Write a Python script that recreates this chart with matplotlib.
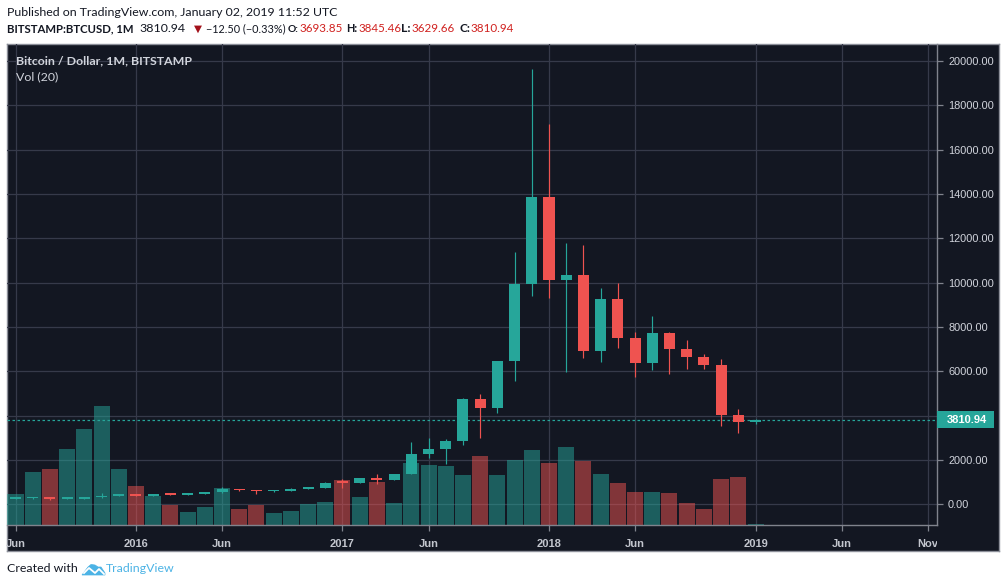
import matplotlib
matplotlib.use("Agg")
import matplotlib.pyplot as plt
from matplotlib.patches import Rectangle, Polygon
from matplotlib.transforms import Bbox, blended_transform_factory
import numpy as np

# ---------------- data ----------------
months = ["2015-06", "2015-07", "2015-08", "2015-09", "2015-10", "2015-11", "2015-12",
          "2016-01", "2016-02", "2016-03", "2016-04", "2016-05", "2016-06", "2016-07",
          "2016-08", "2016-09", "2016-10", "2016-11", "2016-12",
          "2017-01", "2017-02", "2017-03", "2017-04", "2017-05", "2017-06", "2017-07",
          "2017-08", "2017-09", "2017-10", "2017-11", "2017-12",
          "2018-01", "2018-02", "2018-03", "2018-04", "2018-05", "2018-06", "2018-07",
          "2018-08", "2018-09", "2018-10", "2018-11", "2018-12",
          "2019-01"]
opens = [222.9, 263.1, 284.6, 230.0, 236.1, 311.5, 377.3,
         430.0, 368.8, 437.0, 416.0, 448.0, 531.0, 673.0, 624.0, 574.0, 609.0, 700.0, 745.0,
         964.0, 963.0, 1190.0, 1080.0, 1348.0, 2286.0, 2480.0, 2875.0, 4735.0, 4339.0, 6450.0, 9947.0,
         13880.0, 10125.0, 10325.0, 6925.0, 9245.0, 7495.0, 6390.0, 7735.0, 7015.0, 6625.0, 6300.0, 4017.0,
         3693.85]
highs = [268.0, 318.0, 285.0, 262.0, 335.0, 502.0, 470.0,
         463.0, 448.0, 440.0, 467.0, 549.0, 780.0, 704.0, 628.0, 620.0, 740.0, 753.0, 980.0,
         1153.0, 1200.0, 1350.0, 1348.0, 2790.0, 2980.0, 2930.0, 4790.0, 4980.0, 6480.0, 11400.0, 19666.0,
         17176.0, 11780.0, 11700.0, 9760.0, 9990.0, 7760.0, 8500.0, 7760.0, 7400.0, 6790.0, 6550.0, 4290.0,
         3845.46]
lows = [218.8, 253.1, 198.1, 225.0, 236.0, 300.0, 350.0,
        350.0, 365.0, 394.0, 415.0, 441.0, 525.0, 600.0, 470.0, 570.0, 605.0, 680.0, 740.0,
        752.0, 940.0, 891.0, 1075.0, 1345.0, 2076.0, 1830.0, 2680.0, 2972.0, 4110.0, 5555.0, 9400.0,
        9300.0, 5970.0, 6600.0, 6430.0, 7035.0, 5755.0, 6070.0, 5880.0, 6110.0, 6100.0, 3550.0, 3200.0,
        3629.66]
closes = [263.1, 284.6, 230.0, 236.1, 311.5, 377.3, 430.0,
          368.8, 437.0, 416.0, 448.0, 531.0, 673.0, 624.0, 574.0, 609.0, 700.0, 745.0, 964.0,
          963.0, 1190.0, 1080.0, 1348.0, 2286.0, 2480.0, 2875.0, 4735.0, 4339.0, 6450.0, 9947.0, 13880.0,
          10125.0, 10325.0, 6925.0, 9245.0, 7495.0, 6390.0, 7735.0, 7015.0, 6625.0, 6300.0, 4017.0, 3693.85,
          3810.94]
# monthly volume (thousand BTC, estimated)
volumes = [310, 530, 560, 760, 960, 1190, 560,
           390, 290, 200, 130, 180, 370, 160, 200, 120, 140, 210, 230,
           450, 280, 430, 220, 620, 600, 590, 500, 690, 500, 650, 750,
           620, 780, 640, 510, 420, 330, 330, 320, 220, 160, 460, 480,
           10]
price_ticks = [0, 2000, 6000, 8000, 10000, 12000, 14000, 16000, 18000, 20000]
grid_levels = [0, 2000, 4000, 6000, 8000, 10000, 12000, 14000, 16000, 18000, 20000]
time_tick_months = ["2015-06", "2016-01", "2016-06", "2017-01", "2017-06", "2018-01",
                    "2018-06", "2019-01", "2019-06", "2019-11"]
time_tick_labels = ["Jun", "2016", "Jun", "2017", "Jun", "2018", "Jun", "2019", "Jun", "Nov"]

# ---------------- style ----------------
BG = "#131722"
GRID = "#363a4a"
UP = "#26a69a"
DOWN = "#ef5350"
AXIS = "#80838d"
TXT = "#d1d4dc"

W, H = 1006, 587
fig = plt.figure(figsize=(W / 100, H / 100), dpi=100)
fig.patch.set_facecolor("white")
renderer = fig.canvas.get_renderer()


def fr(x0, y0, x1, y1):
    return [x0 / W, 1 - y1 / H, (x1 - x0) / W, (y1 - y0) / H]


def fit(t, max_w):
    """shrink a text so that it is not wider than max_w pixels"""
    w = t.get_window_extent(renderer=renderer).width
    if w > max_w:
        t.set_fontsize(t.get_fontsize() * max_w / w)
    return t


# outer dark panel (a background axes so it sits below everything)
panel = fig.add_axes(fr(6.5, 43.5, 998.5, 551))
panel.set_facecolor(BG)
panel.set_xticks([]); panel.set_yticks([])
for s in panel.spines.values():
    s.set_color("#8c8f99"); s.set_linewidth(1.0)


def month_index(m):
    y, mo = map(int, m.split("-"))
    y0, m0 = map(int, months[0].split("-"))
    return (y - y0) * 12 + (mo - m0)


x = np.array([month_index(m) for m in months], dtype=float)
o = np.array(opens); h = np.array(highs); l = np.array(lows); c = np.array(closes)
v = np.array(volumes, dtype=float)
up = c >= o
tick_x = [month_index(m) for m in time_tick_months]

XL = (-0.494, 53.545)
YL = (-939, 20776)
rect = fr(7, 44, 937, 525)

# grid layer
bg = fig.add_axes(rect)
bg.patch.set_visible(False)
bg.set_xlim(XL); bg.set_ylim(YL)
for lv in grid_levels:
    bg.axhline(lv, color=GRID, lw=0.9)
for tx in tick_x:
    bg.axvline(tx, color=GRID, lw=0.9)
bg.set_xticks([]); bg.set_yticks([])
for s in bg.spines.values():
    s.set_visible(False)

# volume layer
vax = fig.add_axes(rect)
vax.patch.set_visible(False)
vax.set_xlim(XL)
vax.set_ylim(0, v.max() * 481 / 119)
vax.bar(x, v, width=0.93, color=np.where(up, UP, DOWN), alpha=0.5, linewidth=0)
vax.axis("off")

# price candles
ax = fig.add_axes(rect)
ax.patch.set_visible(False)
ax.set_xlim(XL); ax.set_ylim(YL)
cols = np.where(up, UP, DOWN)
ax.vlines(x, l, h, colors=cols, linewidth=0.85, zorder=2)
body_lo = np.minimum(o, c)
body_h = np.maximum(np.abs(c - o), 80)
ax.bar(x, body_h, bottom=body_lo, width=0.64, color=cols, linewidth=0, zorder=3)

# last price line and label
last = closes[-1]
ax.axhline(last, color=UP, lw=0.9, ls=(0, (2, 2)), zorder=1)
tr = blended_transform_factory(ax.transAxes, ax.transData)
box_h = (YL[1] - YL[0]) * 17 / 481
ax.add_patch(Rectangle((1.0, last - box_h / 2), 57 / 930, box_h, transform=tr,
                       facecolor=UP, edgecolor="none", clip_on=False, zorder=5))
ax.text(1.0 + 9.5 / 930, last, f"{last:.2f}", transform=tr, color="white",
        fontsize=8.0, family="Liberation Sans", fontweight="bold", va="center", ha="left",
        zorder=6, clip_on=False)

# axes styling
for s in ["left", "top"]:
    ax.spines[s].set_visible(False)
for s in ["right", "bottom"]:
    ax.spines[s].set_color(AXIS)
    ax.spines[s].set_linewidth(1.0)
ax.yaxis.tick_right()
ax.set_yticks(price_ticks)
ax.set_yticklabels([f"{t:.2f}" for t in price_ticks])
ax.set_xticks(tick_x)
ax.set_xticklabels(time_tick_labels)
ax.tick_params(axis="y", colors=AXIS, length=4, width=0.9, pad=4, labelcolor=TXT,
               labelsize=7.9)
ax.tick_params(axis="x", colors=AXIS, length=4, width=0.9, pad=6, labelcolor="#c3c6ce",
               labelsize=8.0)
for lab in ax.get_yticklabels():
    lab.set_family("Liberation Sans")
for lab in ax.get_xticklabels():
    lab.set_family("Liberation Sans")
    lab.set_fontweight("bold")
clipbox = Bbox.from_extents(0, 0, 937, H)
for lab in ax.get_xticklabels():
    lab.set_clip_box(clipbox)
    lab.set_clip_on(True)

# pane labels
fig.text(16 / W, 1 - 61 / H, "Bitcoin / Dollar, 1M, BITSTAMP", color=TXT, fontsize=8.9,
         family="Lato", fontweight="bold", va="center", ha="left")
fig.text(16 / W, 1 - 77 / H, "Vol (20)", color=TXT, fontsize=8.9,
         family="Lato", va="center", ha="left")

# header
HFS = 8.95
DARK = "#131722"
RED = "#d0211f"
fig.text(7 / W, 1 - 12 / H, "Published on TradingView.com, January 02, 2019 11:52 UTC",
         color=DARK, fontsize=HFS, family="Lato", va="center", ha="left")
Y2 = 1 - 29 / H
fit(fig.text(7 / W, Y2, "BITSTAMP:BTCUSD, 1M", color=DARK, fontsize=HFS, family="Lato",
             fontweight="bold", va="center", ha="left"), 127)
fit(fig.text(139 / W, Y2, "3810.94", color=DARK, fontsize=HFS, family="Lato",
             va="center", ha="left"), 52)
fig.text(194 / W, Y2, "\u25BC", color="#a3111a", fontsize=7.5, family="DejaVu Sans",
         va="center", ha="left")
fit(fig.text(206 / W, Y2, "\u221212.50 (\u22120.33%)", color=DARK, fontsize=HFS,
             family="Lato", va="center", ha="left"), 79)
ohlc = [("O:", 300, "3693.85"), ("H:", 358, "3845.46"),
        ("L:", 412, "3629.66"), ("C:", 471, "3810.94")]
for lab, px, val in ohlc:
    fit(fig.text((px - 1) / W, Y2, lab, color=DARK, fontsize=HFS, family="Lato",
                 fontweight="bold", va="center", ha="right"), 11)
    fit(fig.text(px / W, Y2, val, color=RED, fontsize=HFS, family="Lato",
                 va="center", ha="left"), 43)

# footer
fig.text(7 / W, 1 - 569 / H, "Created with", color=DARK, fontsize=HFS,
         family="Lato", va="center", ha="left")
LOGO = "#4cb3e5"
logo = Polygon([(82 / W, 1 - 575 / H), (88 / W, 1 - 567 / H), (91 / W, 1 - 564.5 / H),
                (95 / W, 1 - 565 / H), (98 / W, 1 - 567 / H), (101 / W, 1 - 567 / H),
                (105 / W, 1 - 573 / H), (105 / W, 1 - 575 / H)],
               closed=True, transform=fig.transFigure, facecolor=LOGO, edgecolor=LOGO, lw=0.5)
fig.patches.append(logo)
fig.lines.append(plt.Line2D([84 / W, 89 / W, 95 / W, 99 / W, 104 / W],
                            [1 - 573 / H, 1 - 568 / H, 1 - 573 / H, 1 - 569 / H, 1 - 574 / H],
                            transform=fig.transFigure, color="white", lw=1.3))
fig.text(106 / W, 1 - 569 / H, "TradingView", color=LOGO, fontsize=HFS,
         family="Lato", va="center", ha="left")

fig.savefig("out.png", dpi=100, facecolor="white")
